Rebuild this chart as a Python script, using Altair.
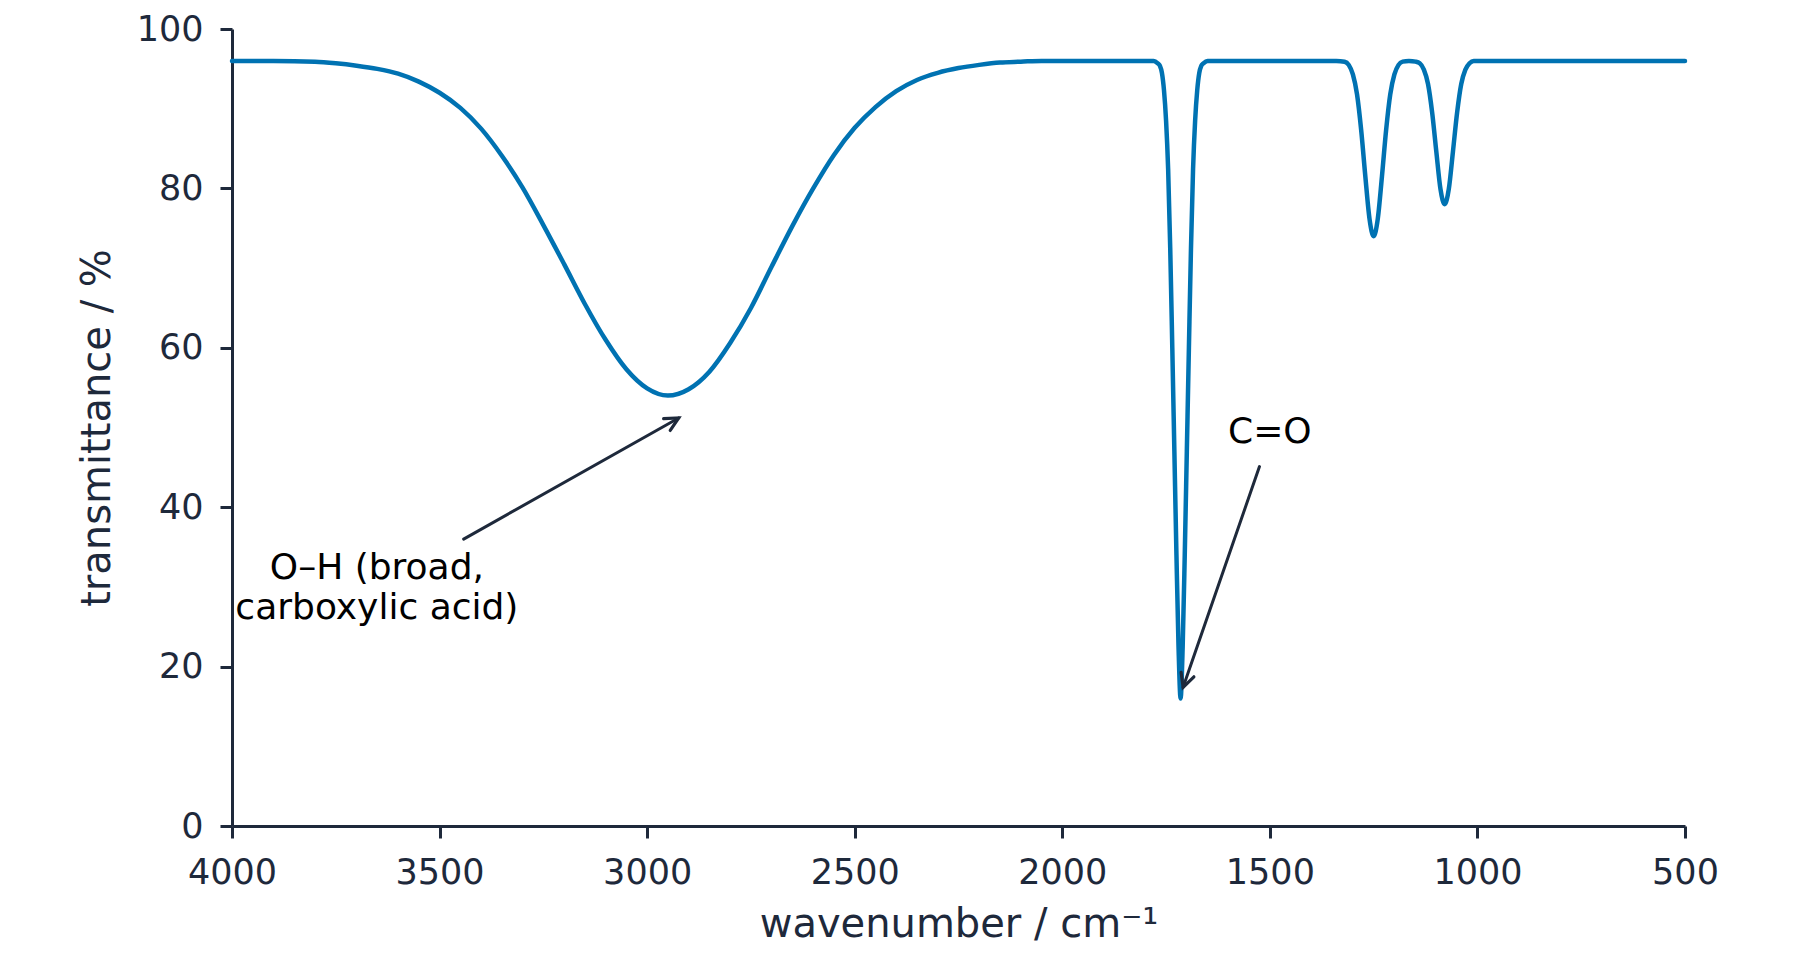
import math
import altair as alt
import pandas as pd

# IR spectrum (wavenumber in cm-1, transmittance in %)
wavenumber = [
    4000, 3900, 3800, 3750, 3700, 3650, 3600, 3550, 3500, 3450, 3400, 3350,
    3300, 3250, 3200, 3150, 3100, 3050, 3000, 2950, 2900, 2850, 2800, 2750,
    2700, 2650, 2600, 2550, 2500, 2450, 2400, 2350, 2300, 2250, 2200, 2150,
    2100, 2050, 2000, 1900, 1800, 1780,
    1770, 1765, 1760, 1755, 1750, 1745, 1740, 1735, 1730, 1725, 1720, 1715,
    1710, 1705, 1700, 1695, 1690, 1685, 1680, 1675, 1670, 1665, 1660, 1650,
    1400, 1340,
    1320, 1310, 1300, 1290, 1280, 1270, 1260, 1250, 1240, 1230, 1220, 1210,
    1200, 1190, 1180, 1165,
    1149, 1139, 1129, 1119, 1109, 1099, 1089, 1079, 1069, 1059, 1049, 1039,
    1029, 1019, 1009, 1000, 500,
]
transmittance = [
    96.0, 96.0, 95.9, 95.7, 95.4, 95.0, 94.4, 93.4, 92.0, 90.1, 87.5, 84.1,
    80.1, 75.4, 70.5, 65.5, 61.0, 57.3, 54.9, 54.0, 54.8, 57.0, 60.6, 65.0,
    70.2, 75.3, 80.0, 84.2, 87.6, 90.2, 92.2, 93.6, 94.5, 95.1, 95.5, 95.8,
    95.9, 96.0, 96.0, 96.0, 96.0, 96.0,
    95.7, 95.4, 94.5, 92.3, 88.5, 82.4, 72.5, 60.0, 47.0, 34.0, 22.5, 16.0,
    22.5, 34.0, 47.0, 60.0, 72.5, 82.4, 88.5, 92.3, 94.5, 95.4, 95.7, 96.0,
    96.0, 96.0,
    95.9, 95.5, 94.3, 91.8, 87.3, 81.5, 76.2, 74.0, 76.2, 81.5, 87.3, 91.8,
    94.3, 95.5, 95.9, 96.0,
    95.9, 95.7, 94.9, 93.1, 89.5, 84.6, 79.9, 78.0, 79.9, 84.6, 89.5, 93.1,
    94.9, 95.7, 96.0, 96.0, 96.0,
]

x_ticks = [4000, 3500, 3000, 2500, 2000, 1500, 1000, 500]
y_ticks = [0, 20, 40, 60, 80, 100]

# annotations: label text, label position, arrow start, arrow tip
labels = ["O–H (broad,\ncarboxylic acid)", "C=O"]
label_x = [3651, 1500]
label_y = [32.4, 49.4]
arrow_x = [3442, 1525]
arrow_y = [36.0, 45.1]
tip_x = [2924, 1709]
tip_y = [51.2, 17.4]

W, H = 1453, 797
INK = "#1e293b"
BLUE = "#0072B2"
FONT = "DejaVu Sans"


def head_angle(x0, y0, x1, y1):
    # direction of the arrow on screen, clockwise from "up"
    dx = (x0 - x1) / 3500 * W      # x axis runs from 4000 down to 500
    dy = (y0 - y1) / 100 * H       # screen y grows downwards
    return math.degrees(math.atan2(dx, -dy)) % 360


spectrum = pd.DataFrame({"wavenumber": wavenumber, "transmittance": transmittance})
notes = pd.DataFrame({
    "label": labels, "lx": label_x, "ly": label_y,
    "ax": arrow_x, "ay": arrow_y, "tx": tip_x, "ty": tip_y,
    "angle": [head_angle(a, b, c, d) for a, b, c, d in zip(arrow_x, arrow_y, tip_x, tip_y)],
})

xscale = alt.Scale(domain=[500, 4000], reverse=True, nice=False, zero=False)
yscale = alt.Scale(domain=[0, 100], nice=False)

line = alt.Chart(spectrum).mark_line(
    color=BLUE, strokeWidth=4.5, interpolate="monotone", strokeJoin="round", strokeCap="round"
).encode(
    x=alt.X("wavenumber:Q", scale=xscale,
            axis=alt.Axis(values=x_ticks, format="d", title="wavenumber / cm⁻¹")),
    y=alt.Y("transmittance:Q", scale=yscale,
            axis=alt.Axis(values=y_ticks, format="d", title="transmittance / %")),
)

shafts = alt.Chart(notes).mark_rule(color=INK, strokeWidth=3, strokeCap="round").encode(
    x="ax:Q", y="ay:Q", x2="tx:Q", y2="ty:Q"
)

heads = alt.Chart(notes).mark_point(
    shape="M-0.5,1L0,0L0.5,1", filled=False, size=729, strokeWidth=3.2,
    color=INK, opacity=1, strokeJoin="miter", strokeCap="round"
).encode(
    x="tx:Q", y="ty:Q", angle=alt.Angle("angle:Q", scale=None)
)

text = alt.Chart(notes).mark_text(
    align="center", baseline="middle", fontSize=36, lineHeight=40,
    lineBreak="\n", font=FONT, color="#000000"
).encode(x="lx:Q", y="ly:Q", text="label:N")

chart = (line + shafts + heads + text).properties(
    width=W, height=H,
    autosize=alt.AutoSizeParams(type="none"),
    padding={"left": 224, "top": 21, "right": 100, "bottom": 120},
).configure_view(
    strokeWidth=0
).configure_axis(
    grid=False, domainColor=INK, tickColor=INK, labelColor=INK, titleColor=INK,
    domainWidth=3, tickWidth=3, tickSize=12, labelPadding=17, labelFlush=False,
    labelFont=FONT, titleFont=FONT, labelFontSize=35, titleFontSize=40,
    titleFontWeight="normal",
).configure_axisX(
    titlePadding=14
).configure_axisY(
    titlePadding=19
)

chart.save("out.html", embed_options={"renderer": "svg", "actions": False})
